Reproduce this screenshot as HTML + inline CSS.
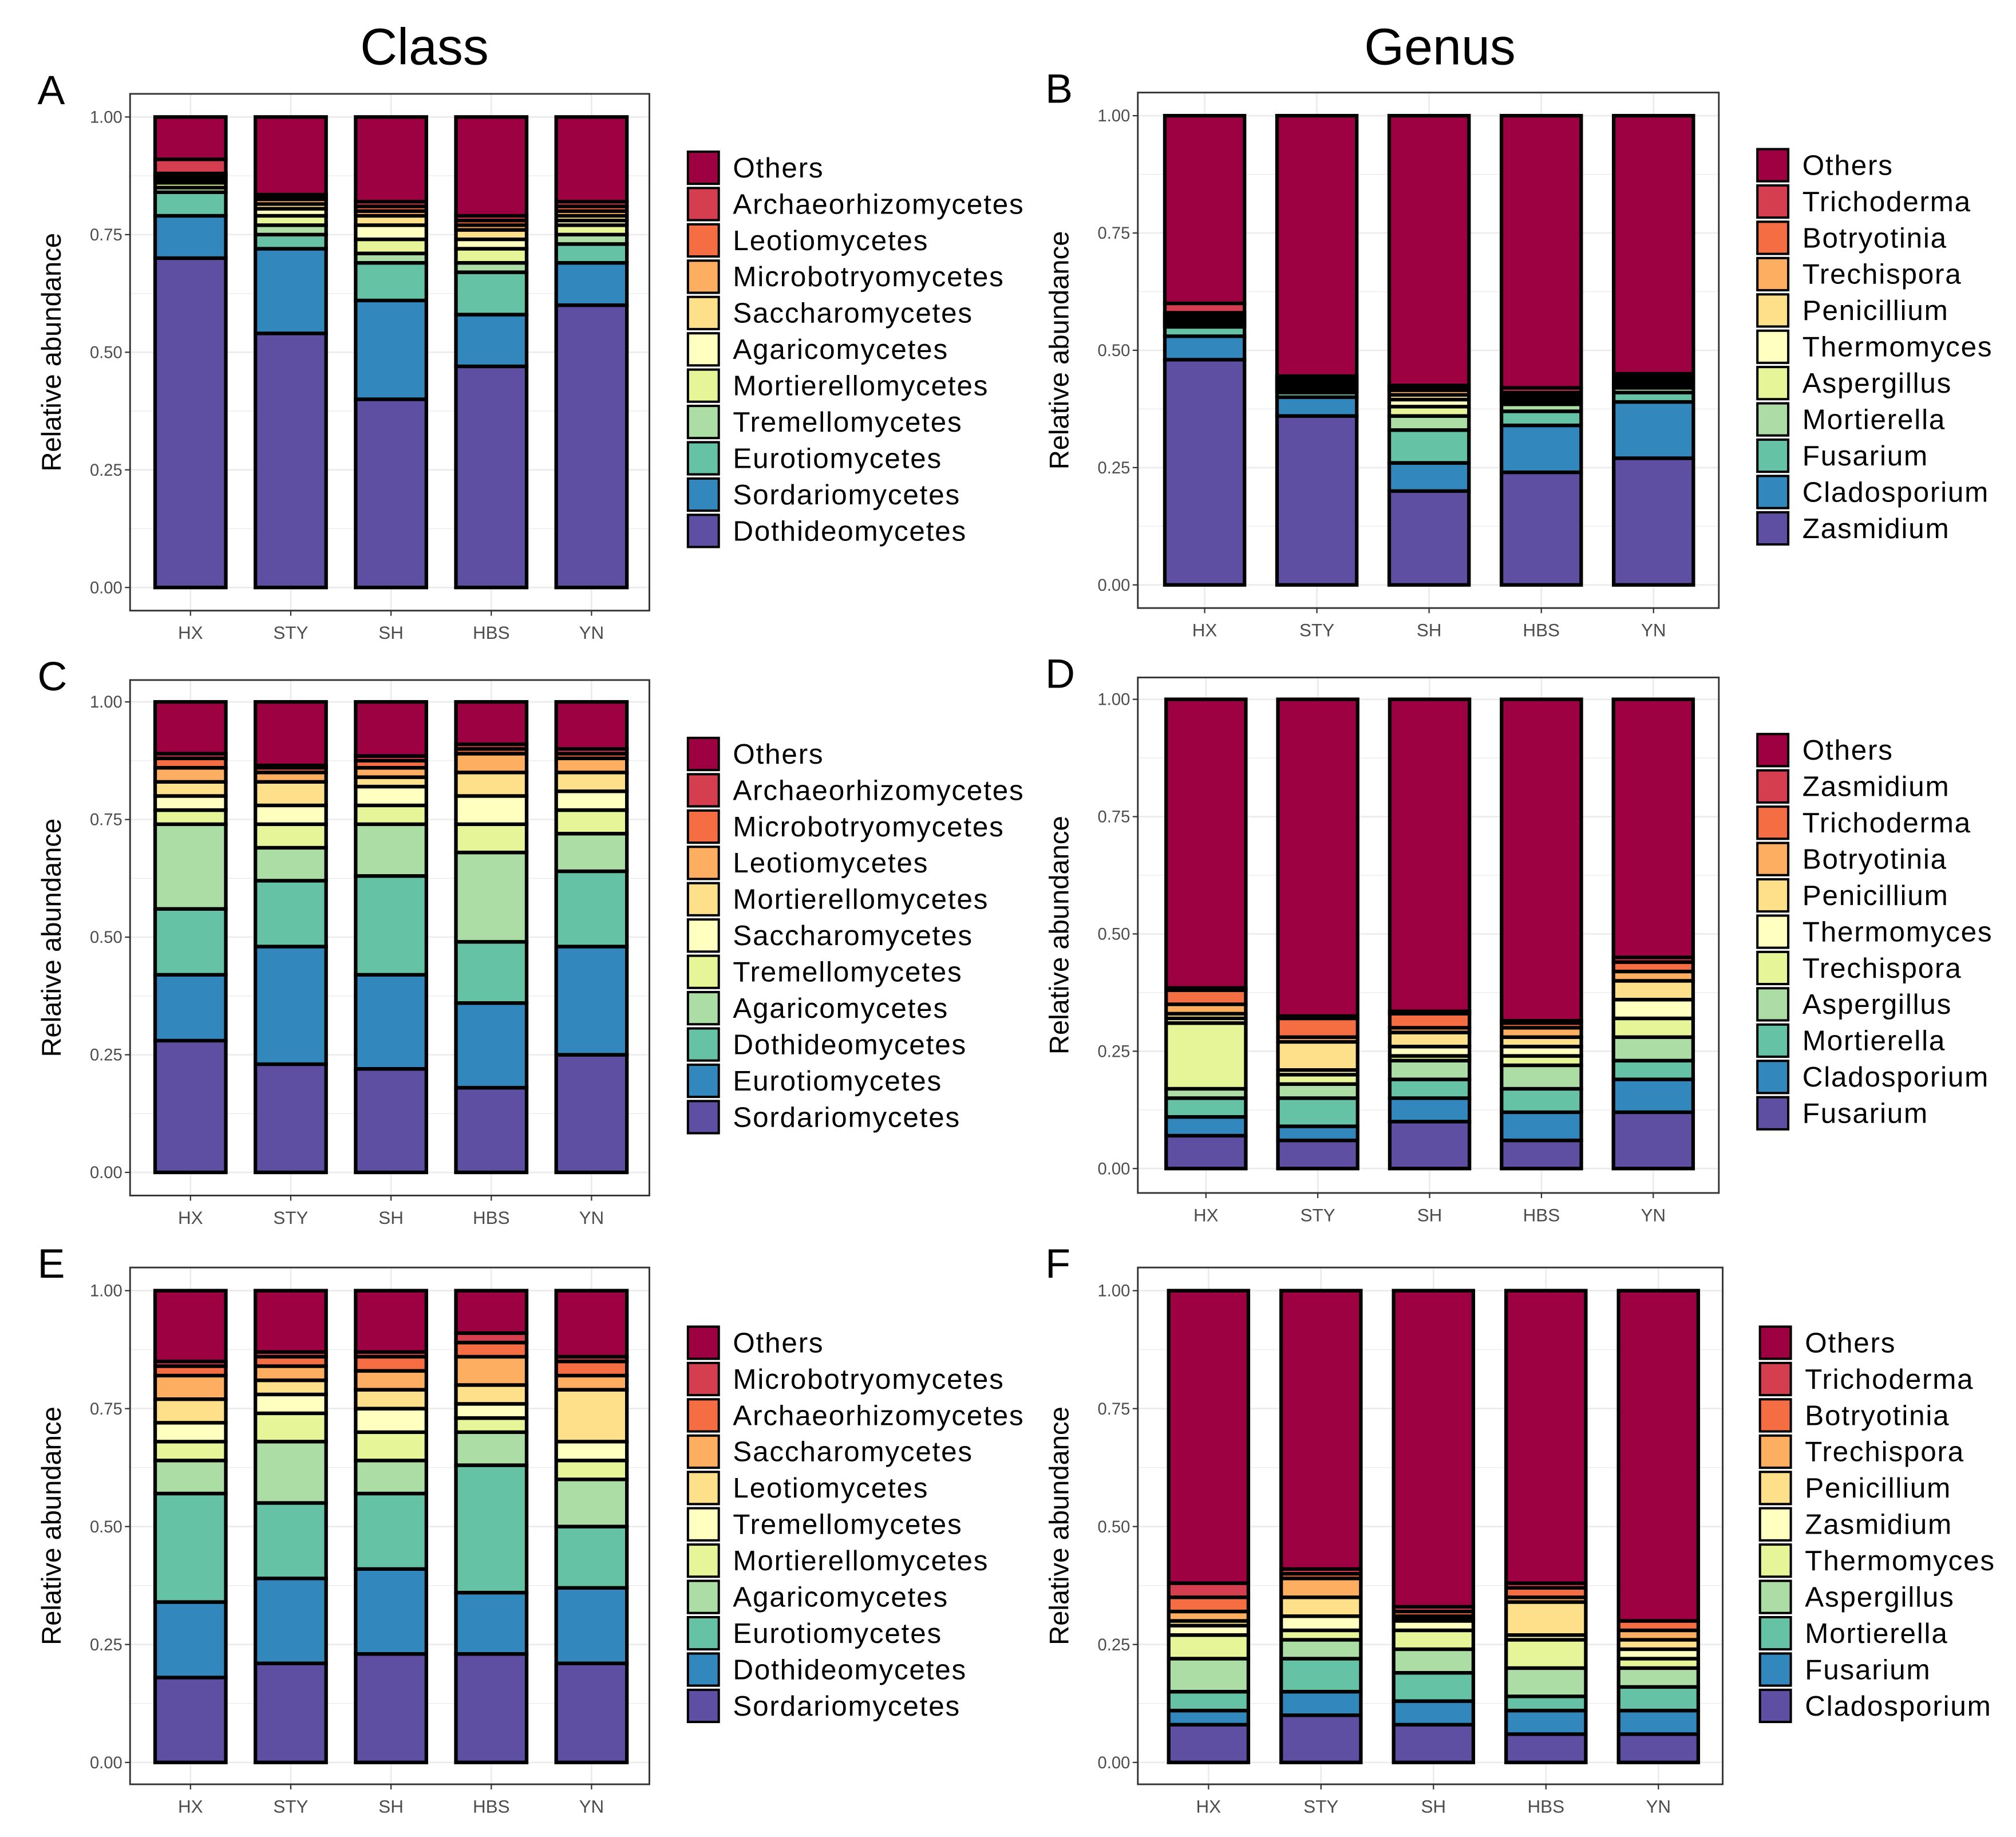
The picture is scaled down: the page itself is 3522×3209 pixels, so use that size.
<!DOCTYPE html>
<html><head><meta charset="utf-8"><style>
html,body{margin:0;padding:0;background:#fff;}
svg{display:block;font-family:"Liberation Sans",Arial,sans-serif;}
</style></head><body>
<svg id="fig" width="3522" height="3209" viewBox="0 0 1568 1429" xmlns="http://www.w3.org/2000/svg">
<text x="330" y="50" font-size="40" text-anchor="middle">Class</text>
<text x="1120" y="50" font-size="40" text-anchor="middle">Genus</text>
</svg>
<script>
const sites = ["HX","STY","SH","HBS","YN"];
const colors = ["#9E0142","#D53E4F","#F46D43","#FDAE61","#FEE08B","#FFFFBF","#E6F598","#ABDDA4","#66C2A5","#3288BD","#5E4FA2"];
const yTicks = [0,0.25,0.5,0.75,1];
const yTickLabels = ["0.00","0.25","0.50","0.75","1.00"];
const legendA = ["Others","Archaeorhizomycetes","Leotiomycetes","Microbotryomycetes","Saccharomycetes","Agaricomycetes","Mortierellomycetes","Tremellomycetes","Eurotiomycetes","Sordariomycetes","Dothideomycetes"];
const dataA = [[0.70,0.09,0.05,0.01,0.01,0.005,0.005,0.005,0.005,0.03],[0.54,0.18,0.03,0.02,0.02,0.015,0.01,0.01,0.005,0.005],[0.40,0.21,0.08,0.02,0.03,0.03,0.02,0.01,0.01,0.01],[0.47,0.11,0.09,0.02,0.03,0.02,0.02,0.01,0.01,0.01],[0.60,0.09,0.04,0.02,0.02,0.01,0.01,0.01,0.01,0.01]];
const legendB = ["Others","Trichoderma","Botryotinia","Trechispora","Penicillium","Thermomyces","Aspergillus","Mortierella","Fusarium","Cladosporium","Zasmidium"];
const dataB = [[0.48,0.05,0.02,0.005,0.005,0.005,0.005,0.005,0.005,0.02],[0.36,0.04,0.01,0.005,0.005,0.005,0.005,0.005,0.005,0.005],[0.20,0.06,0.07,0.03,0.02,0.015,0.01,0.01,0.005,0.005],[0.24,0.10,0.03,0.015,0.005,0.005,0.005,0.005,0.005,0.01],[0.27,0.12,0.02,0.01,0.005,0.005,0.005,0.005,0.005,0.005]];
const legendC = ["Others","Archaeorhizomycetes","Microbotryomycetes","Leotiomycetes","Mortierellomycetes","Saccharomycetes","Tremellomycetes","Agaricomycetes","Dothideomycetes","Eurotiomycetes","Sordariomycetes"];
const dataC = [[0.28,0.14,0.14,0.18,0.03,0.03,0.03,0.03,0.02,0.01],[0.23,0.25,0.14,0.07,0.05,0.04,0.05,0.02,0.01,0.005],[0.22,0.20,0.21,0.11,0.04,0.04,0.02,0.02,0.015,0.01],[0.18,0.18,0.13,0.19,0.06,0.06,0.05,0.04,0.01,0.01],[0.25,0.23,0.16,0.08,0.05,0.04,0.04,0.03,0.01,0.01]];
const legendD = ["Others","Zasmidium","Trichoderma","Botryotinia","Penicillium","Thermomyces","Trechispora","Aspergillus","Mortierella","Cladosporium","Fusarium"];
const dataD = [[0.07,0.04,0.04,0.02,0.14,0.01,0.01,0.02,0.03,0.005],[0.06,0.03,0.06,0.03,0.02,0.01,0.06,0.01,0.04,0.005],[0.10,0.05,0.04,0.04,0.01,0.02,0.03,0.01,0.03,0.005],[0.06,0.06,0.05,0.05,0.02,0.02,0.02,0.02,0.01,0.005],[0.12,0.07,0.04,0.05,0.04,0.04,0.04,0.02,0.02,0.01]];
const legendE = ["Others","Microbotryomycetes","Archaeorhizomycetes","Saccharomycetes","Leotiomycetes","Tremellomycetes","Mortierellomycetes","Agaricomycetes","Eurotiomycetes","Dothideomycetes","Sordariomycetes"];
const dataE = [[0.18,0.16,0.23,0.07,0.04,0.04,0.05,0.05,0.02,0.01],[0.21,0.18,0.16,0.13,0.06,0.04,0.03,0.03,0.02,0.01],[0.23,0.18,0.16,0.07,0.06,0.05,0.04,0.04,0.03,0.01],[0.23,0.13,0.27,0.07,0.03,0.03,0.04,0.06,0.03,0.02],[0.21,0.16,0.13,0.10,0.04,0.04,0.11,0.03,0.03,0.01]];
const legendF = ["Others","Trichoderma","Botryotinia","Trechispora","Penicillium","Zasmidium","Thermomyces","Aspergillus","Mortierella","Fusarium","Cladosporium"];
const dataF = [[0.08,0.03,0.04,0.07,0.05,0.02,0.01,0.02,0.03,0.03],[0.10,0.05,0.07,0.04,0.02,0.03,0.04,0.04,0.01,0.01],[0.08,0.05,0.06,0.05,0.04,0.02,0.005,0.005,0.01,0.01],[0.06,0.05,0.03,0.06,0.06,0.01,0.07,0.01,0.02,0.01],[0.06,0.05,0.05,0.04,0.02,0.02,0.02,0.02,0.02,0.0]];

const panels = [
 {id:"a",letter:"A",data:dataA,legend:legendA,box:[101,73,505,475],y1:91,y0:457,bx0:148,bstep:78,bw:55,lx:535,ly:130},
 {id:"b",letter:"B",data:dataB,legend:legendB,box:[885,72,1337,473],y1:90,y0:455,bx0:937,bstep:87.3,bw:62,lx:1367,ly:128},
 {id:"c",letter:"C",data:dataC,legend:legendC,box:[101,529,505,930],y1:546,y0:912,bx0:148,bstep:78,bw:55,lx:535,ly:586},
 {id:"d",letter:"D",data:dataD,legend:legendD,box:[885,527,1337,928],y1:544,y0:909,bx0:938,bstep:87,bw:62,lx:1367,ly:583},
 {id:"e",letter:"E",data:dataE,legend:legendE,box:[101,986,505,1388],y1:1004,y0:1371,bx0:148,bstep:78,bw:55,lx:535,ly:1044},
 {id:"f",letter:"F",data:dataF,legend:legendF,box:[885,986,1340,1388],y1:1004,y0:1371,bx0:940,bstep:87.5,bw:62,lx:1369,ly:1044}
];
const svg = document.getElementById("fig");
const NS = "http://www.w3.org/2000/svg";
function mk(tag, attrs, parent){ const e=document.createElementNS(NS,tag); for(const k in attrs) e.setAttribute(k,attrs[k]); (parent||svg).appendChild(e); return e; }

panels.forEach(p=>{
  const g = mk("g",{});
  
  
  const [x0,yt,x1,yb] = p.box;
  const yS = v => p.y0 - v*(p.y0-p.y1);
  const xS = i => p.bx0 + i*p.bstep;
  mk("rect",{x:x0,y:yt,width:x1-x0,height:yb-yt,fill:"#fff"},g);
  for(let v=0; v<=1.0001; v+=0.125){
    mk("line",{x1:x0,x2:x1,y1:yS(v),y2:yS(v),stroke:"#ebebeb","stroke-width":(Math.round(v*8)%2===0)?1.2:0.6},g);
  }
  sites.forEach((s,i)=>{ mk("line",{x1:xS(i),x2:xS(i),y1:yt,y2:yb,stroke:"#ebebeb","stroke-width":1.2},g); });
  p.data.forEach((segs,i)=>{
    let cum=0;
    const bg = mk("g",{},g);
    
    
    const all = segs.slice();
    const sum = all.reduce((a,b)=>a+b,0);
    all.push(Math.max(0,1-sum));
    all.forEach((v,j)=>{
      const col = colors[10-j];
      const r = mk("rect",{x:xS(i)-p.bw/2,y:yS(cum+v),width:p.bw,height:Math.max(0,yS(cum)-yS(cum+v)),fill:col,stroke:"#000","stroke-width":2.8},bg);
      
      
      cum+=v;
    });
  });
  mk("rect",{x:x0,y:yt,width:x1-x0,height:yb-yt,fill:"none",stroke:"#333","stroke-width":1.3},g);
  yTicks.forEach((v,k)=>{
    mk("line",{x1:x0-4,x2:x0,y1:yS(v),y2:yS(v),stroke:"#333","stroke-width":1},g);
    const t = mk("text",{x:x0-6,y:yS(v)+4.5,"font-size":13,fill:"#4d4d4d","text-anchor":"end"},g);
    t.textContent = yTickLabels[k];
    
    
  });
  sites.forEach((s,i)=>{
    mk("line",{x1:xS(i),x2:xS(i),y1:yb,y2:yb+4,stroke:"#333","stroke-width":1},g);
    const t = mk("text",{x:xS(i),y:yb+22,"font-size":14,fill:"#4d4d4d","text-anchor":"middle"},g);
    t.textContent = s;
    
    
  });
  const yl = mk("text",{x:0,y:0,"font-size":21,fill:"#000","text-anchor":"middle",transform:`translate(${x0-54},${(yt+yb)/2}) rotate(-90)`},g);
  yl.textContent = "Relative abundance";
  
  
  const L = mk("text",{x:x0-72,y:yt+8,"font-size":32,fill:"#000"},g);
  L.textContent = p.letter;
  
  
  p.legend.forEach((name,k)=>{
    const ey = p.ly + k*28.25;
    const le = mk("g",{},g);
    
    
    mk("rect",{x:p.lx,y:ey-12,width:24,height:25,fill:colors[k],stroke:"#000","stroke-width":1.8},le);
    const t = mk("text",{x:p.lx+35,y:ey+8,"font-size":22,fill:"#000","letter-spacing":"0.8"},le);
    t.textContent = name;
  });
});
</script>
</body></html>
